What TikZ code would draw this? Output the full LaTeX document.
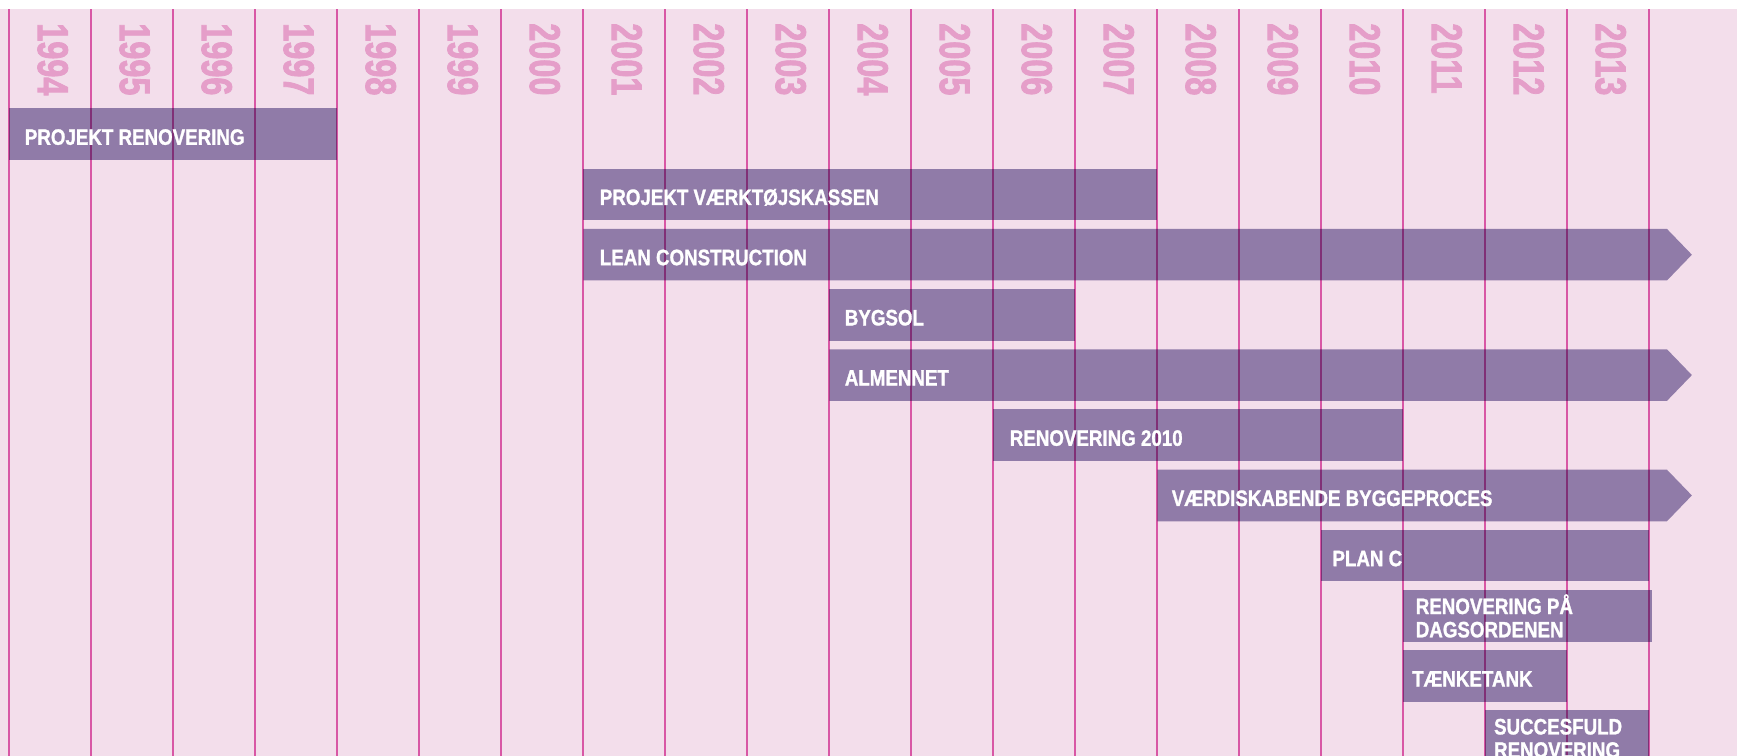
\documentclass[tikz,border=0pt]{standalone}
\usepackage{fontspec}
\setmainfont{Liberation Sans}
\newfontfamily\barfont[FakeStretch=0.84, FakeBold=1.2]{Liberation Sans Bold}
\newfontfamily\yearfont[FakeStretch=0.75, FakeBold=1.8]{Liberation Sans Bold}
\usetikzlibrary{calc}
\definecolor{backdrop}{HTML}{F3DEEB}
\definecolor{gridline}{HTML}{E365B4}
\definecolor{yeartext}{HTML}{E59EC9}
\definecolor{barfill}{HTML}{907BA8}
\tikzset{
  yearline/.style={draw=gridline, line width=0.7pt},
  bar/.style={fill=barfill},
  barlab/.style={text=white, font=\barfont\fontsize{7.74}{8.1}\selectfont,
    inner sep=0pt, align=left, anchor=base west},
  yearlab/.style={text=yeartext, font=\yearfont\fontsize{15}{15}\selectfont,
    rotate=-90, anchor=west, inner sep=0pt}
}
\newcommand{\GanttBar}[4]{%
  % #1 = name, #2 = row, #3 = first year column, #4 = column where it stops
  \pgfmathsetmacro{\rowtop}{-1.3232-0.73415*#2}
  \fill[bar] (#3,\rowtop) rectangle (#4,\rowtop-0.6293);
  \coordinate (#1) at (#3,\rowtop-0.3146);
}
\newcommand{\GanttArrow}[3]{%
  % #1 = name, #2 = row, #3 = first year column; still running, so it ends in a point
  \pgfmathsetmacro{\rowtop}{-1.3232-0.73415*#2}
  \fill[bar] (#3,\rowtop) -- (20.216,\rowtop) -- (20.52,\rowtop-0.3146)
    -- (20.216,\rowtop-0.6293) -- (#3,\rowtop-0.6293) -- cycle;
  \coordinate (#1) at (#3,\rowtop-0.3146);
}

\begin{document}
\begin{tikzpicture}[line cap=butt, line join=miter]
  \useasboundingbox (-0.1134,0) rectangle (21.0707,-9.2195);
  \fill[backdrop] (-0.1134,-0.1098) rectangle (21.0707,-9.2195);

  % years along the top
  \foreach \col in {0,...,19} {
    \pgfmathtruncatemacro{\yr}{1994+\col}
    \node[yearlab] (yr\col) at (\col+0.53,-0.277) {\yr};
  }

  % projects
  \GanttBar{ren}{0}{0}{4}
  \GanttBar{vaerk}{1}{7}{14}
  \GanttArrow{lean}{2}{7}
  \GanttBar{bygsol}{3}{10}{13}
  \GanttArrow{almen}{4}{10}
  \GanttBar{ren2010}{5}{12}{17}
  \GanttArrow{vaerdi}{6}{14}
  \GanttBar{planc}{7}{16}{20}
  \GanttBar{dags}{8}{17}{20.03}
  \GanttBar{taenke}{9}{17}{19}
  \GanttBar{succes}{10}{18}{20}

  % year dividers, darkened where they cross a bar
  \begin{scope}[blend mode=multiply]
    \foreach \col in {0,...,20}
      \draw[yearline] (\col,-0.1098) -- (\col,-9.2195);
  \end{scope}

  \node[barlab] (renlab) at ([xshift=0.183cm, yshift=-0.128cm]ren) {PROJEKT RENOVERING};
  \node[barlab] (vaerklab) at ([xshift=0.195cm, yshift=-0.128cm]vaerk) {PROJEKT VÆRKTØJSKASSEN};
  \node[barlab] (leanlab) at ([xshift=0.195cm, yshift=-0.128cm]lean) {LEAN CONSTRUCTION};
  \node[barlab] (bygsollab) at ([xshift=0.183cm, yshift=-0.128cm]bygsol) {BYGSOL};
  \node[barlab] (almenlab) at ([xshift=0.183cm, yshift=-0.128cm]almen) {ALMENNET};
  \node[barlab] (ren2010lab) at ([xshift=0.195cm, yshift=-0.128cm]ren2010) {RENOVERING 2010};
  \node[barlab] (vaerdilab) at ([xshift=0.171cm, yshift=-0.128cm]vaerdi) {VÆRDISKABENDE BYGGEPROCES};
  \node[barlab] (planclab) at ([xshift=0.13cm, yshift=-0.128cm]planc) {PLAN C};
  \node[barlab] (dagslab) at ([xshift=0.146cm, yshift=-0.262cm]dags) {RENOVERING PÅ\\DAGSORDENEN};
  \node[barlab] (taenkelab) at ([xshift=0.102cm, yshift=-0.128cm]taenke) {TÆNKETANK};
  \node[barlab] (succeslab) at ([xshift=0.101cm, yshift=-0.262cm]succes) {SUCCESFULD\\RENOVERING};
\end{tikzpicture}
\end{document}
